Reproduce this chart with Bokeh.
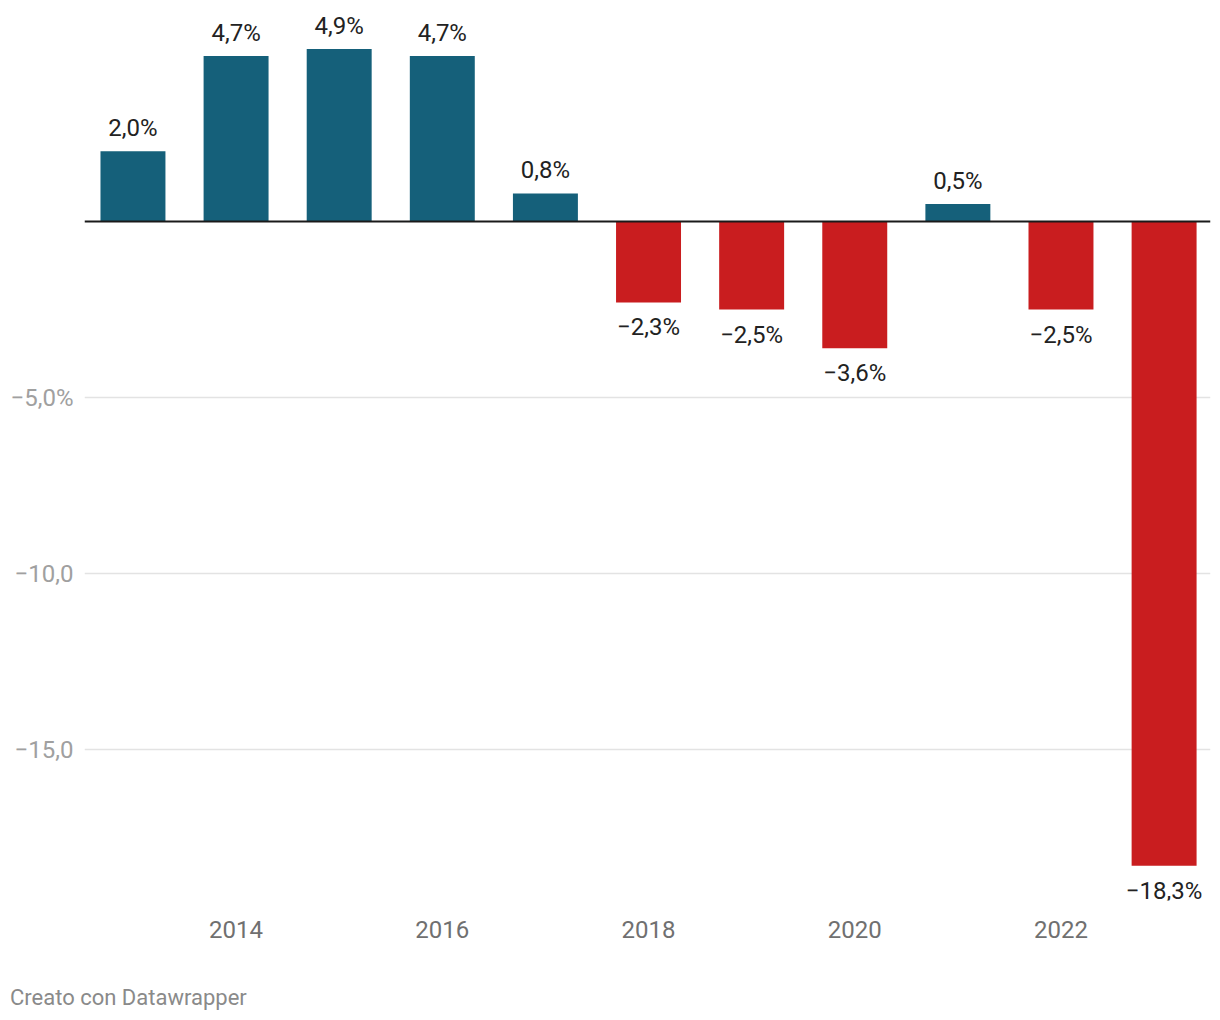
from bokeh.plotting import figure
from bokeh.models import ColumnDataSource, Range1d, FixedTicker, Span, Div
from bokeh.layouts import column
from bokeh.core.properties import value
from bokeh.embed import file_html
from bokeh.resources import INLINE

years = [2013, 2014, 2015, 2016, 2017, 2018, 2019, 2020, 2021, 2022, 2023]
values = [2.0, 4.7, 4.9, 4.7, 0.8, -2.3, -2.5, -3.6, 0.5, -2.5, -18.3]
x_ticks = [2014, 2016, 2018, 2020, 2022]
y_ticks = [-15, -10, -5]
y_tick_labels = {-5: "\u22125,0%", -10: "\u221210,0", -15: "\u221215,0"}

BLUE = "#15607a"
RED = "#c91d1f"

def fmt(v):
    s = f"{abs(v):.1f}".replace(".", ",") + "%"
    return ("\u2212" + s) if v < 0 else s

colors = [BLUE if v >= 0 else RED for v in values]
labels = [fmt(v) for v in values]

src = ColumnDataSource(dict(x=years, top=values, color=colors))
pos = ColumnDataSource(dict(x=[y for y, v in zip(years, values) if v >= 0],
                            y=[v for v in values if v >= 0],
                            t=[l for l, v in zip(labels, values) if v >= 0]))
neg = ColumnDataSource(dict(x=[y for y, v in zip(years, values) if v < 0],
                            y=[v for v in values if v < 0],
                            t=[l for l, v in zip(labels, values) if v < 0]))

p = figure(width=1218, height=960, output_backend="svg", toolbar_location=None,
           x_range=Range1d(2012.53, 2023.45), y_range=Range1d(-19.29, 6.28),
           min_border_left=84, min_border_right=8, min_border_top=0, min_border_bottom=60)
p.outline_line_color = None
p.background_fill_color = "white"
p.border_fill_color = "white"

p.vbar(x="x", top="top", bottom=0, width=0.63, color="color", line_color=None, source=src)

p.add_layout(Span(location=0, dimension="width", line_color="#1a1a1a", line_width=2))

p.text(x="x", y="y", text="t", source=pos, text_align="center", text_baseline="middle",
       y_offset=-23, text_font=value("Roboto"), text_font_size="24px", text_color="#222222")
p.text(x="x", y="y", text="t", source=neg, text_align="center", text_baseline="middle",
       y_offset=25, text_font=value("Roboto"), text_font_size="24px", text_color="#222222")

p.xgrid.grid_line_color = None
p.ygrid.ticker = FixedTicker(ticks=y_ticks)
p.ygrid.grid_line_color = "#e3e3e3"
p.ygrid.grid_line_width = 1.5

p.yaxis.ticker = FixedTicker(ticks=y_ticks)
p.yaxis.major_label_overrides = y_tick_labels
p.yaxis.axis_line_color = None
p.yaxis.major_tick_line_color = None
p.yaxis.minor_tick_line_color = None
p.yaxis.major_tick_out = 0
p.yaxis.major_tick_in = 0
p.yaxis.major_label_standoff = 11
p.yaxis.major_label_text_font = "Roboto"
p.yaxis.major_label_text_font_size = "24px"
p.yaxis.major_label_text_color = "#a0a0a0"

p.xaxis.ticker = FixedTicker(ticks=x_ticks)
p.xaxis.major_label_overrides = {t: str(t) for t in x_ticks}
p.xaxis.axis_line_color = None
p.xaxis.major_tick_line_color = None
p.xaxis.minor_tick_line_color = None
p.xaxis.major_tick_out = 0
p.xaxis.major_tick_in = 0
p.xaxis.major_label_standoff = 20
p.xaxis.major_label_text_font = "Roboto"
p.xaxis.major_label_text_font_size = "24px"
p.xaxis.major_label_text_color = "#707070"

footer = Div(text="Creato con Datawrapper", width=400, height=30,
             margin=(22, 0, 0, 10),
             styles={"font-family": "Roboto", "font-size": "22px", "color": "#8a8a8a"})

layout = column(p, footer, spacing=0)
open("out.html", "w").write(file_html(layout, INLINE))
